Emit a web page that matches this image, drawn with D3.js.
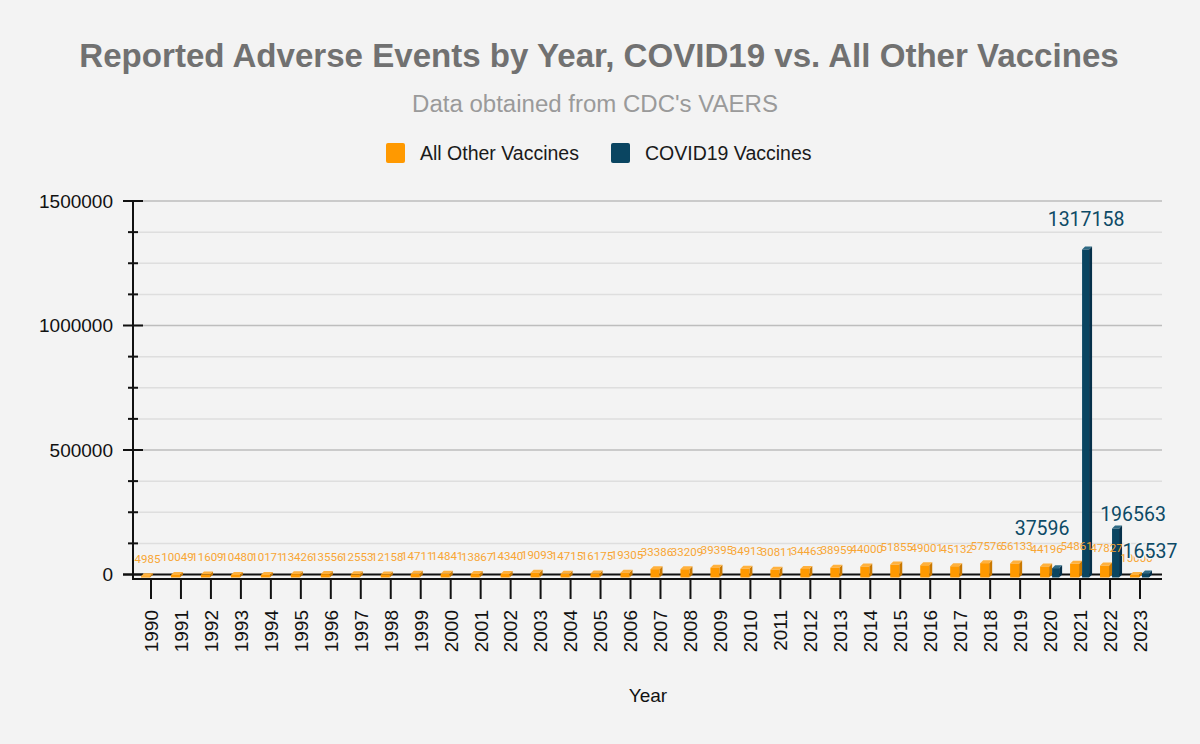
<!DOCTYPE html>
<html><head><meta charset="utf-8">
<script src="https://cdn.jsdelivr.net/npm/d3@7"></script>
<style>
html,body{margin:0;padding:0;background:#f3f3f3;}
svg{display:block;font-family:"Liberation Sans",Arial,sans-serif;}
</style></head>
<body>
<svg id="chart" width="1200" height="744"></svg>
<script>
// ---- data ----
const years = ["1990","1991","1992","1993","1994","1995","1996","1997","1998","1999","2000","2001","2002","2003","2004","2005","2006","2007","2008","2009","2010","2011","2012","2013","2014","2015","2016","2017","2018","2019","2020","2021","2022","2023"];
const otherVaccines = [4985,10049,11609,10480,10171,13426,13556,12553,12158,14711,14841,13867,14340,19093,14715,16175,19305,33386,33209,39395,34913,30811,34463,38959,44000,51855,49001,45132,57576,56133,44196,54861,47827,10000];
const covidYears = ["2020","2021","2022","2023"];
const covidVaccines = [37596,1317158,196563,16537];
const yMajorTicks = [0,500000,1000000,1500000];
const seriesNames = ["All Other Vaccines","COVID19 Vaccines"];

// ---- layout / style (not data) ----
const covidLabelNudge = {"2020":[-15,30],"2021":[-1,21],"2022":[16,5],"2023":[3,12]};
const C = {
  orange:{front:"#ff9900",side:"#c97800",top:"#ffb13d",label:"#f8a634"},
  covid:{front:"#0a4561",side:"#06304a",top:"#2f6a84",label:"#0d4a66"}
};
const svg = d3.select("#chart");
const W=1200;
const left=133, right=1162, yTop=201, yBase=574.5;
const dX=3, dY=3; // 3d depth

const x = d3.scaleBand().domain(years).range([136,1155]);
const y = d3.scaleLinear().domain([0,1500000]).range([yBase,yTop]);

// background
svg.append("rect").attr("width",1200).attr("height",744).attr("fill","#f3f3f3");

// title
function fitText(sel, target){
  const w = sel.node().getComputedTextLength();
  const fs = parseFloat(sel.attr("font-size"));
  sel.attr("font-size", fs*target/w);
}
const title = svg.append("text").attr("x",599).attr("y",67).attr("text-anchor","middle")
  .attr("font-size",30).attr("font-weight","bold").attr("fill","#717171")
  .text("Reported Adverse Events by Year, COVID19 vs. All Other Vaccines");
fitText(title,1040);
const sub = svg.append("text").attr("x",595).attr("y",112).attr("text-anchor","middle")
  .attr("font-size",20).attr("fill","#9a9a9a").text("Data obtained from CDC's VAERS");
fitText(sub,366);

// legend
const leg = svg.append("g");
[[386,420,C.orange.front,seriesNames[0]],[611,645,C.covid.front,seriesNames[1]]].forEach(d=>{
  leg.append("rect").attr("x",d[0]).attr("y",143).attr("width",19).attr("height",20).attr("rx",2).attr("fill",d[2]);
  leg.append("text").attr("x",d[1]).attr("y",159.5).attr("font-size",19.5).attr("fill","#1a1a1a").text(d[3]);
});

// gridlines
const minorTicks = d3.range(0,1500001,125000).filter(v=>v%500000!==0);
svg.append("g").selectAll("line").data(minorTicks).join("line")
  .attr("x1",left).attr("x2",right).attr("y1",d=>y(d)).attr("y2",d=>y(d))
  .attr("stroke","#dedede").attr("stroke-width",1.5);
svg.append("g").selectAll("line").data(yMajorTicks.filter(v=>v>0)).join("line")
  .attr("x1",left).attr("x2",right).attr("y1",d=>y(d)).attr("y2",d=>y(d))
  .attr("stroke","#bdbdbd").attr("stroke-width",1.5);

// y axis ticks & labels
const yAxisG = svg.append("g");
yAxisG.selectAll("line.maj").data(yMajorTicks).join("line").attr("class","maj")
  .attr("x1",123).attr("x2",143).attr("y1",d=>y(d)).attr("y2",d=>y(d))
  .attr("stroke","#111").attr("stroke-width",2);
yAxisG.selectAll("line.min").data(minorTicks).join("line").attr("class","min")
  .attr("x1",128).attr("x2",138).attr("y1",d=>y(d)).attr("y2",d=>y(d))
  .attr("stroke","#111").attr("stroke-width",2);
yAxisG.selectAll("text").data(yMajorTicks).join("text")
  .attr("x",113).attr("y",d=>y(d)).attr("dy","0.36em").attr("text-anchor","end")
  .attr("font-size",19).attr("fill","#111").text(d=>d3.format("d")(d));

// floor lines
svg.append("line").attr("x1",123).attr("x2",right).attr("y1",yBase).attr("y2",yBase).attr("stroke","#111").attr("stroke-width",2);
svg.append("line").attr("x1",left).attr("x2",right).attr("y1",yBase+4.5).attr("y2",yBase+4.5).attr("stroke","#111").attr("stroke-width",2);
svg.append("line").attr("x1",left).attr("x2",left).attr("y1",yTop).attr("y2",yBase+5.5).attr("stroke","#111").attr("stroke-width",2);

// x ticks and labels
const cx = d=>x(d)+x.bandwidth()/2;
svg.append("g").selectAll("line").data(years).join("line")
  .attr("x1",cx).attr("x2",cx).attr("y1",yBase+4.5).attr("y2",599)
  .attr("stroke","#111").attr("stroke-width",2);
svg.append("g").selectAll("text").data(years).join("text")
  .attr("transform",d=>`translate(${cx(d)},610) rotate(-90)`)
  .attr("dy","0.36em").attr("text-anchor","end").attr("font-size",19).attr("fill","#111").text(d=>d);
svg.append("text").attr("x",648).attr("y",702).attr("text-anchor","middle").attr("font-size",19).attr("fill","#111").text("Year");

// 3d bar helper: back face at x0..x1 from yBase up to y(v); front shifted (-dX,+dY)
function bar3d(g, x0, x1, v, col){
  const yt = y(v);
  const fx0=x0-dX, fx1=x1-dX, fyT=yt+dY, fyB=yBase+dY;
  g.append("path").attr("d",`M${fx1},${fyT}L${x1},${yt}L${x1},${yBase}L${fx1},${fyB}Z`).attr("fill",col.side);
  g.append("path").attr("d",`M${fx0},${fyT}L${x0},${yt}L${x1},${yt}L${fx1},${fyT}Z`).attr("fill",col.top);
  g.append("rect").attr("x",fx0).attr("y",fyT).attr("width",fx1-fx0).attr("height",Math.max(0,fyB-fyT)).attr("fill",col.front);
}
const barsG = svg.append("g");
years.forEach((yr,i)=>{
  const c = cx(yr);
  bar3d(barsG, c-7, c+2, otherVaccines[i], C.orange);
});
covidYears.forEach((yr,i)=>{
  const c = cx(yr);
  bar3d(barsG, c+5, c+12, covidVaccines[i], C.covid);
});

// orange value labels
svg.append("g").selectAll("text").data(years).join("text")
  .attr("x",d=>cx(d)-3.5).attr("y",(d,i)=>y(otherVaccines[i])-10.5)
  .attr("text-anchor","middle").attr("font-family","Roboto, sans-serif").attr("font-size",11.5)
  .attr("fill",C.orange.label).text((d,i)=>otherVaccines[i]);

// covid value labels
svg.append("g").selectAll("text").data(covidYears).join("text")
  .attr("x",d=>cx(d)+7+covidLabelNudge[d][0]).attr("y",(d,i)=>y(covidVaccines[i])-covidLabelNudge[d][1])
  .attr("text-anchor","middle").attr("font-family","Roboto, sans-serif").attr("font-size",19.5)
  .attr("fill",C.covid.label).attr("stroke","#f3f3f3").attr("stroke-width",3).attr("paint-order","stroke")
  .text((d,i)=>covidVaccines[i]);
</script>
</body></html>
